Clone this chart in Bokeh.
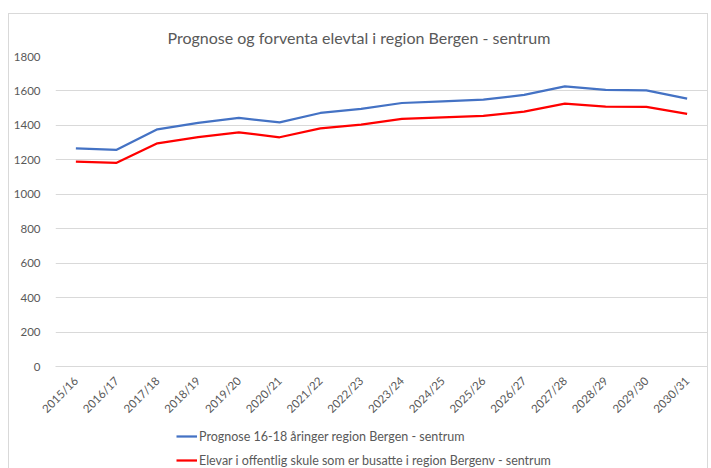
import math
from bokeh.plotting import figure
from bokeh.layouts import column
from bokeh.models import Range1d, FactorRange, FixedTicker, Legend, LegendItem, ColumnDataSource
from bokeh.embed import file_html
from bokeh.resources import INLINE

seasons = ["2015/16", "2016/17", "2017/18", "2018/19", "2019/20", "2020/21", "2021/22", "2022/23",
           "2023/24", "2024/25", "2025/26", "2026/27", "2027/28", "2028/29", "2029/30", "2030/31"]
prognose = [1267, 1258, 1377, 1415, 1443, 1418, 1472, 1496, 1530, 1540, 1549, 1577, 1627, 1606, 1603, 1555]
elevar = [1190, 1183, 1296, 1332, 1360, 1331, 1383, 1405, 1438, 1447, 1455, 1480, 1526, 1509, 1507, 1467]
y_ticks = [0, 200, 400, 600, 800, 1000, 1200, 1400, 1600, 1800]

title_text = "Prognose og forventa elevtal i region Bergen - sentrum"
name_blue = "Prognose 16-18 åringer region Bergen - sentrum"
name_red = "Elevar i offentlig skule som er busatte i region Bergenv - sentrum"

FONT = "Lato"
GREY = "#595959"
BLUE = "#4472C4"
RED = "#FF0000"

src = ColumnDataSource(dict(x=seasons, a=prognose, b=elevar))

p = figure(width=698, height=414, output_backend="svg", toolbar_location=None,
           x_range=FactorRange(*seasons, range_padding=0), y_range=Range1d(0, 1800),
           min_border_left=46, min_border_right=0, min_border_top=42, min_border_bottom=62)
p.outline_line_color = None
p.background_fill_color = "white"
p.border_fill_color = "white"

p.line("x", "a", source=src, line_color=BLUE, line_width=2.25)
p.line("x", "b", source=src, line_color=RED, line_width=2.25)

p.title.text = title_text
p.title.text_font = FONT
p.title.text_font_size = "16px"
p.title.text_font_style = "normal"
p.title.text_color = GREY
p.title.align = "left"
p.title.offset = 112
p.title.standoff = 20

p.xgrid.grid_line_color = None
p.ygrid.grid_line_color = "#d9d9d9"
p.ygrid.grid_line_width = 1
p.yaxis.ticker = FixedTicker(ticks=y_ticks)
p.yaxis.axis_line_color = None
p.yaxis.major_tick_line_color = None
p.yaxis.minor_tick_line_color = None
p.yaxis.major_label_standoff = 9
p.xaxis.axis_line_color = "#d9d9d9"
p.xaxis.major_tick_line_color = None
p.xaxis.major_label_orientation = math.pi / 4
p.xaxis.major_label_standoff = 6
for ax in (p.xaxis, p.yaxis):
    ax.major_label_text_font = FONT
    ax.major_label_text_font_size = "11.5px"
    ax.major_label_text_color = GREY

# legend strip below the chart: same series, kept out of its (empty) view range
p2 = figure(width=698, height=40, output_backend="svg", toolbar_location=None,
            x_range=FactorRange(*seasons, range_padding=0), y_range=Range1d(0, 1),
            x_axis_location=None, y_axis_location=None,
            min_border_left=0, min_border_right=0, min_border_top=0, min_border_bottom=0)
p2.outline_line_color = None
p2.grid.grid_line_color = None
l1 = p2.line("x", "a", source=src, line_color=BLUE, line_width=2.25)
l2 = p2.line("x", "b", source=src, line_color=RED, line_width=2.25)

legend = Legend(items=[LegendItem(label=name_blue, renderers=[l1]),
                       LegendItem(label=name_red, renderers=[l2])],
                location=(121, 0), orientation="vertical",
                glyph_width=21, glyph_height=16, label_height=16,
                label_standoff=2, spacing=8, padding=0, margin=0,
                border_line_color=None, background_fill_alpha=0,
                label_text_font=FONT, label_text_font_size="12.5px",
                label_text_color=GREY)
p2.add_layout(legend, "center")

layout = column(p, p2, spacing=0)
layout.styles = {"margin-left": "8px", "margin-top": "13px",
                 "border-left": "1px solid #d9d9d9", "border-top": "1px solid #d9d9d9",
                 "border-right": "1px solid #d9d9d9"}

open("out.html", "w").write(file_html(layout, INLINE))
